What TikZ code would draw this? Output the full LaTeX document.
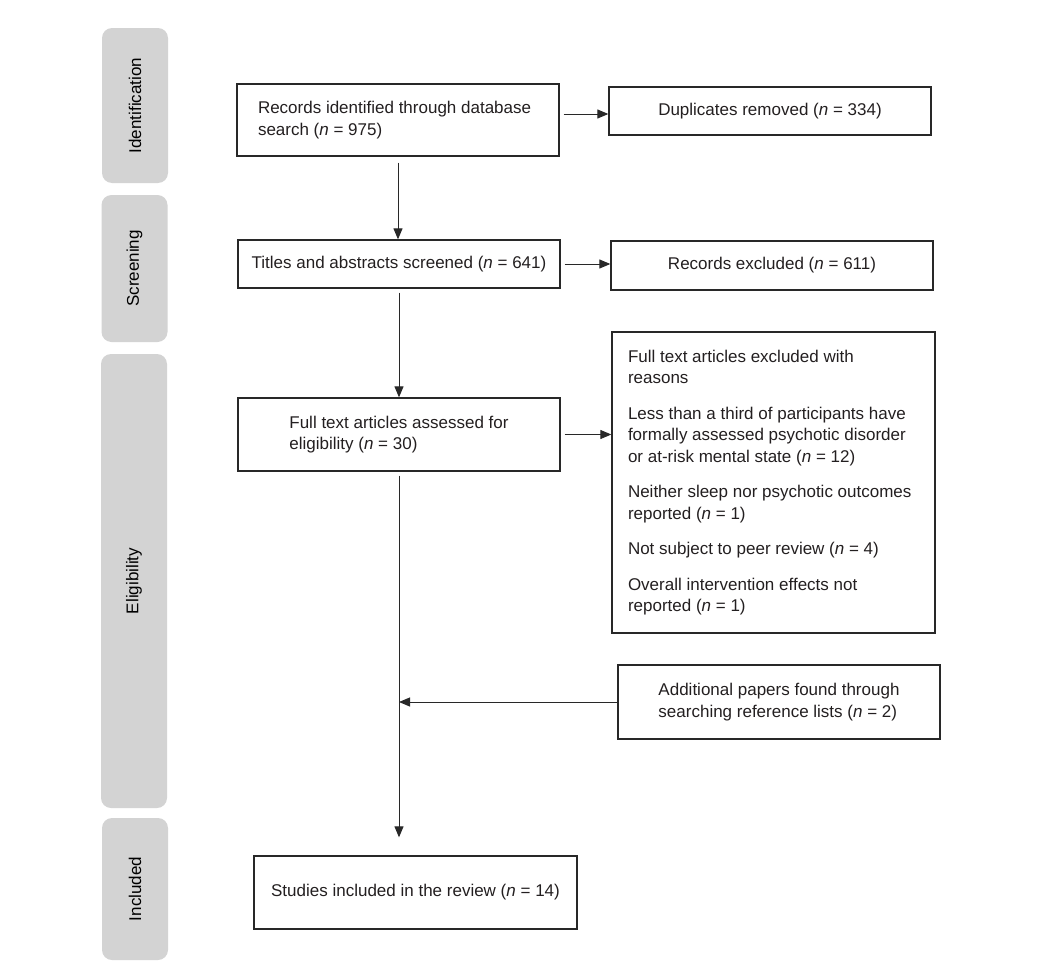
\documentclass[tikz,border=0pt]{standalone}
\usepackage{fontspec}
\setmainfont{Liberation Sans}
\usepackage{tikz}
\usetikzlibrary{arrows.meta,positioning,calc}
\definecolor{prismatext}{RGB}{35,31,32}
\definecolor{prismaline}{RGB}{40,40,40}
\definecolor{prismabar}{RGB}{211,211,211}
\newcommand{\nn}{\textit{n}}

\begin{document}
\begin{tikzpicture}[
    x=1pt, y=-1pt,
    every node/.style={text=prismatext, font=\fontsize{17}{21.5}\selectfont},
    box/.style={draw=prismaline, line width=1.3pt, minimum width=322pt, inner sep=0pt, align=center},
    phase/.style={fill=prismabar, rounded corners=10pt, rotate=90, minimum height=66pt, inner sep=0pt, text=black},
    flow/.style={-{Triangle[length=11pt,width=9pt]}, prismaline, line width=1pt, shorten <=4pt}
]
\useasboundingbox (0,0) rectangle (1045,969);

% Phase bars
\node[phase, minimum width=155pt] (ident) at (135,105.5) {Identification};
\node[phase, minimum width=147pt] (screen) at (134.5,268.5) {Screening};
\node[phase, minimum width=454pt] (elig) at (134,581) {Eligibility};
\node[phase, minimum width=142pt] (incl) at (135,889) {Included};

% Boxes
\node[box, minimum height=72pt] (records) at (398,120)
  {\parbox{280pt}{Records identified through database\\search (\nn{} = 975)}};
\node[box, minimum height=48pt] (dupl) at (770,111) {Duplicates removed (\nn{} = 334)};
\node[box, minimum height=48pt] (titles) at (399,264) {Titles and abstracts screened (\nn{} = 641)};
\node[box, minimum height=49pt] (excluded) at (772,265.5) {Records excluded (\nn{} = 611)};
\node[box, minimum height=73pt, align=left] (fulltext) at (399,434.5)
  {Full text articles assessed for\\eligibility (\nn{} = 30)};
\node[box, minimum width=323pt, minimum height=301pt] (reasons) at (773.5,482.5)
  {\parbox{291pt}{Full text articles excluded with\\reasons\\[14pt]
   Less than a third of participants have\\formally assessed psychotic disorder\\or at-risk mental state (\nn{} = 12)\\[14pt]
   Neither sleep nor psychotic outcomes\\reported (\nn{} = 1)\\[14pt]
   Not subject to peer review (\nn{} = 4)\\[14pt]
   Overall intervention effects not\\reported (\nn{} = 1)}};
\node[box, minimum height=74pt, align=left] (additional) at (779,702)
  {Additional papers found through\\searching reference lists (\nn{} = 2)};
\node[box, minimum width=323pt, minimum height=73pt] (studies) at (415.5,892.5)
  {Studies included in the review (\nn{} = 14)};

% Connectors
\coordinate (dupin) at ($(dupl.west)+(0,3)$);
\draw[flow] (records.east |- dupin) -- (dupin);
\draw[flow, shorten <=6pt] (records.south) -- (records.south |- titles.north);
\draw[flow] (titles.east) -- (titles.east -| excluded.west);
\draw[flow] (titles.south) -- (fulltext.north);
\draw[flow] (fulltext.east) -- (fulltext.east -| reasons.west);
\draw[flow, shorten >=18pt] (fulltext.south) -- (fulltext.south |- studies.north);
\draw[flow, shorten <=0pt] (additional.west) -- (additional.west -| fulltext.south);

\end{tikzpicture}
\end{document}
